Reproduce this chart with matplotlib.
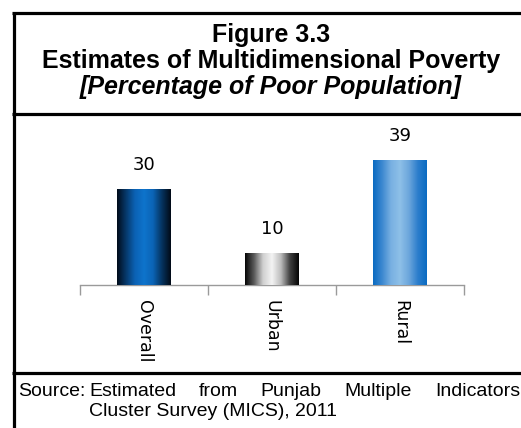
import numpy as np
import matplotlib
matplotlib.use("Agg")
import matplotlib.pyplot as plt
from matplotlib.colors import LinearSegmentedColormap
from matplotlib.lines import Line2D

areas = ["Overall", "Urban", "Rural"]
poor_pct = [30, 10, 39]
source_words = ["Estimated", "from", "Punjab", "Multiple", "Indicators"]
source_line2 = "Cluster Survey (MICS), 2011"

W, H = 521, 428
fig = plt.figure(figsize=(W / 100, H / 100), dpi=100)

def px(x, y):
    # pixel coords (origin top-left) -> figure fraction
    return x / W, 1 - y / H

# frame: left rule, top rule, title and source separators
for (x0, y0), (x1, y1) in [((13.5, 12.5), (13.5, 428)), ((12, 12.5), (521, 12.5)),
                           ((12, 114), (521, 114)), ((12, 373), (521, 373))]:
    a, b = px(x0, y0); c, d = px(x1, y1)
    fig.add_artist(Line2D([a, c], [b, d], color="black", lw=2.3, transform=fig.transFigure,
                          solid_capstyle="butt"))

tfont = dict(family="Liberation Sans", fontweight="bold", fontsize=18, ha="center", va="center")
fig.text(*px(271, 35), "Figure 3.3", **tfont)
fig.text(*px(271, 61), "Estimates of Multidimensional Poverty", **tfont)
fig.text(*px(271, 87), "[Percentage of Poor Population]", style="italic", **tfont)

# bar chart
ax = fig.add_axes([80 / W, 1 - 285 / H, 384 / W, 144 / H])
ax.set_xlim(-0.5, 2.5)
ax.set_ylim(0, 45)
x = np.arange(len(areas))
bars = ax.bar(x, poor_pct, width=0.42, color="none", edgecolor="none", zorder=2)

shades = [
    ["#010c1a", "#06386a", "#0b62b4", "#0e74cc", "#0b64b6", "#05335f", "#010a16"],
    ["#050505", "#5a5a5a", "#d0d0d0", "#f4f4f4", "#bcbcbc", "#404040", "#050505"],
    ["#0a6bc2", "#3c88d0", "#78b0e2", "#8ec0e8", "#6ca6dc", "#2c7ecc", "#0a6bc2"],
]
grad = np.linspace(0, 1, 256).reshape(1, -1)
for bar, cols in zip(bars, shades):
    cmap = LinearSegmentedColormap.from_list("g", cols)
    bx, bw, bh = bar.get_x(), bar.get_width(), bar.get_height()
    im = ax.imshow(grad, cmap=cmap, aspect="auto", extent=[bx, bx + bw, 0, bh], zorder=3)
    im.set_clip_path(bar)

for xi, v in zip(x, poor_pct):
    ax.annotate(str(v), (xi, v), xytext=(0, 11), textcoords="offset points",
                ha="center", va="bottom", fontsize=13, family="DejaVu Sans")

for s in ["top", "right", "left"]:
    ax.spines[s].set_visible(False)
ax.spines["bottom"].set_color("#9a9a9a")
ax.spines["bottom"].set_linewidth(1.0)
ax.set_yticks([])
ax.set_xticks(x)
ax.set_xticklabels(areas, rotation=270, fontsize=12.5, family="DejaVu Sans")
ax.tick_params(axis="x", which="major", length=0, pad=11)
ax.set_xticks([-0.5, 0.5, 1.5, 2.5], minor=True)
ax.tick_params(axis="x", which="minor", length=7, color="#9a9a9a", width=1.0)
ax.set_xlim(-0.5, 2.5)

# source note, first line justified to the right edge
sfont = dict(family="Liberation Sans", fontsize=14, va="center")
fig.text(*px(18, 391), "Source:", **sfont)
fig.canvas.draw()
r = fig.canvas.get_renderer()
items = [fig.text(0, 0, w, **sfont) for w in source_words]
widths = [t.get_window_extent(r).width for t in items]
x0, x1 = 89, 520
gap = (x1 - x0 - sum(widths)) / (len(items) - 1)
cx = x0
for t, w in zip(items, widths):
    t.set_position(px(cx, 391))
    cx += w + gap
fig.text(*px(89, 411), source_line2, **sfont)

fig.savefig("out.png", dpi=100)
